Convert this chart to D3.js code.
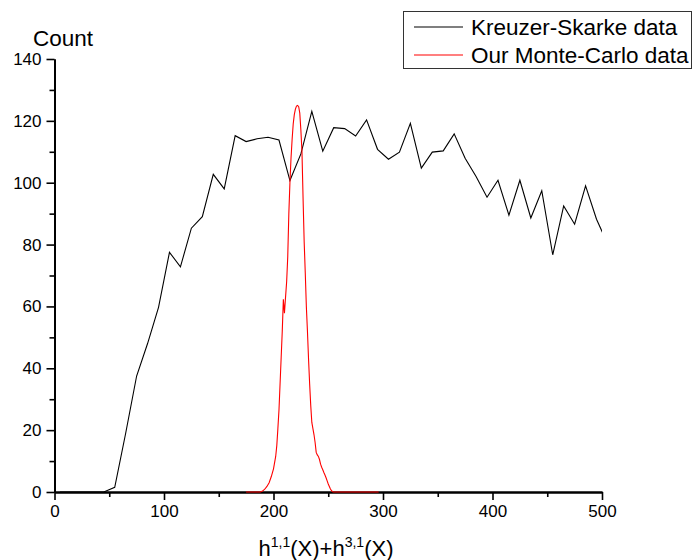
<!DOCTYPE html>
<html>
<head>
<meta charset="utf-8">
<script src="https://cdn.jsdelivr.net/npm/d3@7"></script>
<style>
  body { margin: 0; background: #fff; }
  text { font-family: "Liberation Sans", Arial, sans-serif; }
</style>
</head>
<body>
<svg width="694" height="560"></svg>
<script>
// Kreuzer-Skarke histogram (bin centres) and Monte-Carlo curve

var ksX = [5, 15, 25, 35, 45, 55, 65, 75, 85, 95, 105, 115, 125, 135, 145, 155, 165, 175, 185, 195,
  205, 215, 225, 235, 245, 255, 265, 275, 285, 295, 305, 315, 325, 335, 345, 355, 365, 375, 385, 395,
  405, 415, 425, 435, 445, 455, 465, 475, 485, 495, 505];
var ksCount = [0, 0, 0, 0, 0, 1.5, 19, 37.5, 48, 59.7, 77.5, 72.8, 85.3, 89, 102.7, 98, 115.2, 113.3, 114.2, 114.7,
  113.8, 100.7, 109.3, 123.1, 110.2, 117.8, 117.5, 115.1, 120.3, 110.8, 107.6, 109.9, 119.2, 104.7, 109.9, 110.3, 115.8, 107.9, 102, 95.3,
  100.8, 89.5, 100.8, 88.6, 97.4, 76.7, 92.5, 86.6, 99, 88.2, 80.3];

var mcX = [175, 185, 188, 190, 192, 194, 196, 198, 200, 202, 203, 204, 205, 206, 207, 208, 209, 210, 211, 212,
  213, 214, 215, 216, 217, 218, 219, 220, 221, 222, 223, 224, 225, 226, 227, 228, 229, 230, 231, 232,
  233, 234, 235, 236, 237, 238, 239, 240, 241, 242, 243, 244, 245, 246, 247, 248, 249, 250, 251, 252,
  253, 254, 255, 265, 280, 296];
var mcCount = [0, 0, 0, 0.3, 0.9, 1.8, 3, 5, 7.5, 11.5, 15, 20.5, 26.5, 35, 43.5, 52, 62.3, 57.8, 63, 68,
  76, 90, 100, 108, 114, 119, 122, 123.8, 124.8, 125, 124.6, 122.5, 117, 110, 95, 81, 71, 60, 52, 43,
  35, 28, 22.5, 20.5, 18.5, 16, 12.8, 12, 11.5, 10.5, 9, 8, 7.2, 6.3, 5.5, 4.6, 3.6, 2.6, 1.8, 1,
  0.4, 0.1, 0, 0, 0, 0];

var xTicks = [0, 100, 200, 300, 400, 500];
var yTicks = [0, 20, 40, 60, 80, 100, 120, 140];
var seriesNames = ["Kreuzer-Skarke data", "Our Monte-Carlo data"];
var seriesColors = ["#000", "#ff0000"];

var svg = d3.select("svg");

// plot box in pixels (names avoid window.top)
var plotLeft = 54.5, plotRight = 602, plotTop = 59, plotBottom = 492;

var x = d3.scaleLinear().domain([0, 500]).range([plotLeft, plotRight]);
var y = d3.scaleLinear().domain([0, 140]).range([plotBottom, plotTop]);

// axes first: major + minor ticks, outward
var xMinor = d3.range(50, 500, 100);
var yMinor = d3.range(10, 140, 20);

svg.append("g")
  .attr("transform", "translate(0," + plotBottom + ")")
  .call(d3.axisBottom(x).tickValues(xTicks).tickSize(8).tickSizeOuter(0).tickPadding(5));
svg.append("g")
  .attr("transform", "translate(0," + plotBottom + ")")
  .call(d3.axisBottom(x).tickValues(xMinor).tickSize(5).tickFormat("").tickSizeOuter(0));

svg.append("g")
  .attr("transform", "translate(" + plotLeft + ",0)")
  .call(d3.axisLeft(y).tickValues(yTicks).tickSize(8).tickSizeOuter(0).tickPadding(5));
svg.append("g")
  .attr("transform", "translate(" + plotLeft + ",0)")
  .call(d3.axisLeft(y).tickValues(yMinor).tickSize(5).tickFormat("").tickSizeOuter(0));

svg.selectAll(".domain").attr("stroke", "#000").attr("stroke-width", 2);
svg.selectAll(".tick line").attr("stroke", "#000").attr("stroke-width", 1.6);
svg.selectAll(".tick text")
  .attr("fill", "#000")
  .style("font-size", "17px")
  .style("font-family", "Liberation Sans, Arial, sans-serif");

// data lines drawn over the axes
svg.append("clipPath")
  .attr("id", "plotclip")
  .append("rect")
  .attr("x", plotLeft)
  .attr("y", 0)
  .attr("width", plotRight - plotLeft)
  .attr("height", plotBottom + 2);

var line = d3.line()
  .x(function(d){ return x(d[0]); })
  .y(function(d){ return y(d[1]); });

var ksData = ksX.map(function(v, i){ return [v, ksCount[i]]; });
var mcData = mcX.map(function(v, i){ return [v, mcCount[i]]; });

svg.append("path")
  .datum(ksData)
  .attr("clip-path", "url(#plotclip)")
  .attr("d", line)
  .attr("fill", "none")
  .attr("stroke", seriesColors[0])
  .attr("stroke-width", 1.1);

svg.append("path")
  .datum(mcData)
  .attr("clip-path", "url(#plotclip)")
  .attr("d", line)
  .attr("fill", "none")
  .attr("stroke", seriesColors[1])
  .attr("stroke-width", 1.1);

// axis titles
svg.append("text")
  .attr("x", 33)
  .attr("y", 46)
  .style("font-size", "22.5px")
  .text("Count");

var xt = svg.append("text")
  .attr("x", 326)
  .attr("y", 556)
  .attr("text-anchor", "middle")
  .style("font-size", "22px");
xt.append("tspan").text("h");
xt.append("tspan").attr("dy", -9).style("font-size", "14px").text("1,1");
xt.append("tspan").attr("dy", 9).text("(X)+h");
xt.append("tspan").attr("dy", -9).style("font-size", "14px").text("3,1");
xt.append("tspan").attr("dy", 9).text("(X)");

// legend
var legend = svg.append("g");
legend.append("rect")
  .attr("x", 403.5)
  .attr("y", 11.5)
  .attr("width", 288)
  .attr("height", 57)
  .attr("fill", "#fff")
  .attr("stroke", "#333")
  .attr("stroke-width", 1);

var rows = legend.selectAll("g.row")
  .data(seriesNames)
  .enter()
  .append("g")
  .attr("class", "row")
  .attr("transform", function(d, i){ return "translate(0," + (27 + i * 28) + ")"; });

rows.append("line")
  .attr("x1", 414)
  .attr("x2", 463)
  .attr("y1", 0)
  .attr("y2", 0)
  .attr("stroke", function(d, i){ return seriesColors[i]; })
  .attr("stroke-width", 1.1);

rows.append("text")
  .attr("x", 471)
  .attr("y", 8)
  .style("font-size", "22.5px")
  .text(function(d){ return d; });
</script>
</body>
</html>
